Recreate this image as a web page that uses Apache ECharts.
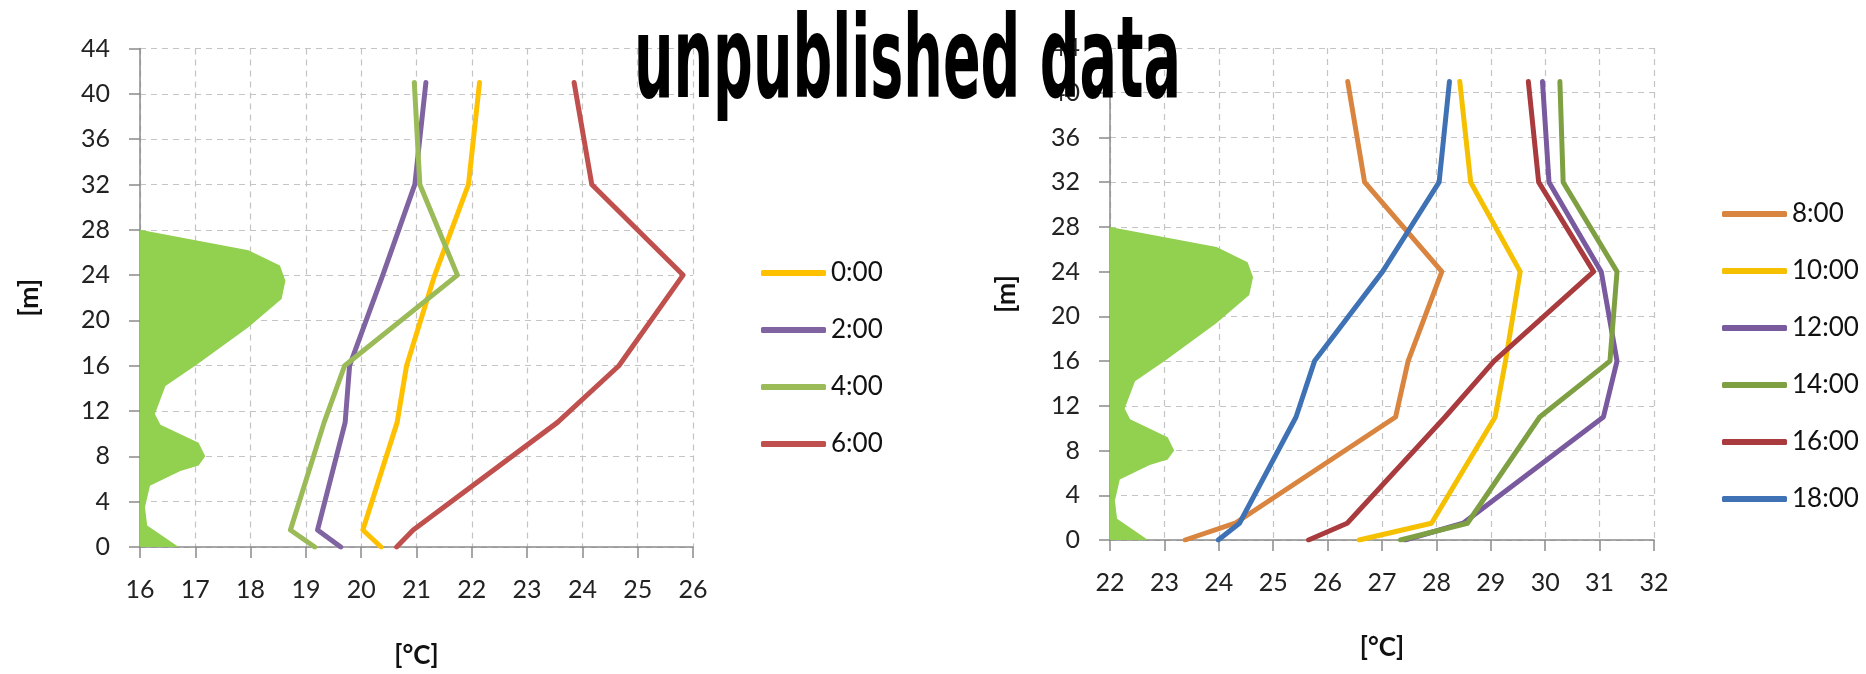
<!DOCTYPE html>
<html>
<head>
<meta charset="utf-8">
<script src="https://cdn.jsdelivr.net/npm/echarts@6/dist/echarts.min.js"></script>
<style>
  html, body { margin: 0; padding: 0; background: #ffffff; }
  #chart { width: 1866px; height: 674px; }
</style>
</head>
<body>
<div id="chart"></div>
<script>
// Measurement heights [m] shared by every temperature profile
const heights = [0, 1.5, 11, 16, 24, 32, 41];

// Night profiles [°C]
const nightNames = ['0:00', '2:00', '4:00', '6:00'];
const t0000 = [20.36, 20.03, 20.65, 20.82, 21.33, 21.94, 22.14];
const t0200 = [19.63, 19.21, 19.71, 19.79, 20.39, 20.97, 21.17];
const t0400 = [19.16, 18.72, 19.33, 19.70, 21.74, 21.06, 20.96];
const t0600 = [20.64, 20.94, 23.55, 24.66, 25.82, 24.17, 23.85];
const nightColors = ['#FFC000', '#8064A2', '#9BBB59', '#C0504D'];

// Day profiles [°C]
const dayNames = ['8:00', '10:00', '12:00', '14:00', '16:00', '18:00'];
const t0800 = [23.38, 24.30, 27.25, 27.48, 28.10, 26.68, 26.37];
const t1000 = [26.58, 27.91, 29.08, 29.27, 29.54, 28.63, 28.43];
const t1200 = [27.42, 28.49, 31.07, 31.32, 31.03, 30.07, 29.95];
const t1400 = [27.34, 28.57, 29.90, 31.19, 31.32, 30.33, 30.27];
const t1600 = [25.65, 26.36, 28.16, 29.06, 30.89, 29.88, 29.69];
const t1800 = [23.99, 24.38, 25.42, 25.76, 27.01, 28.05, 28.24];
const dayColors = ['#D9853F', '#F5C000', '#7A5A9E', '#7EA043', '#A93A3D', '#3F72B5'];

// Canopy silhouette: height [m] and relative width (units of the hidden 0..10 axis)
const canopyH = [0, 1.9, 3.5, 5.4, 6.7, 7.2, 8.0, 9.2, 10.8, 11.75, 14.2, 16.1, 19.4, 21.9, 23.5, 24.85, 26.2, 28];
const canopyW = [0.70, 0.13, 0.09, 0.18, 0.73, 1.06, 1.18, 1.06, 0.37, 0.27, 0.46, 1.03, 1.96, 2.56, 2.63, 2.53, 1.96, 0];

// Axis ticks
const nightTempMin = 16, nightTempMax = 26;
const dayTempMin = 22, dayTempMax = 32;
const heightMin = 0, heightMax = 44, heightStep = 4;

const FONT = 'Lato, "Open Sans", sans-serif';
const GRID_COLOR = '#c4c4c4';
const AXIS_COLOR = '#8a8a8a';

function pairs(temps) {
  return temps.map((t, i) => [t, heights[i]]);
}

function tempAxis(gridIndex, min, max, nameGap) {
  return {
    type: 'value', gridIndex, min, max, interval: 1,
    name: '[°C]', nameLocation: 'middle', nameGap,
    nameTextStyle: { fontFamily: FONT, fontWeight: 'bold', fontSize: 26, color: '#111' },
    axisLine: { show: true, lineStyle: { color: AXIS_COLOR, width: 1.5 } },
    axisTick: { show: true, length: 11, lineStyle: { color: AXIS_COLOR, width: 1.5 } },
    axisLabel: { fontFamily: FONT, fontSize: 25, color: '#222', margin: 30 },
    splitLine: { show: true, lineStyle: { color: GRID_COLOR, type: [6, 5], width: 1.2 } }
  };
}

function heightAxis(gridIndex, nameGap) {
  return {
    type: 'value', gridIndex, min: heightMin, max: heightMax, interval: heightStep,
    name: '[m]', nameLocation: 'middle', nameGap, nameRotate: 90,
    nameTextStyle: { fontFamily: FONT, fontWeight: 'bold', fontSize: 27, color: '#111' },
    axisLine: { show: true, lineStyle: { color: AXIS_COLOR, width: 1.5 } },
    axisTick: { show: true, length: 11, lineStyle: { color: AXIS_COLOR, width: 1.5 } },
    axisLabel: { fontFamily: FONT, fontSize: 25, color: '#222', margin: 30 },
    splitLine: { show: true, lineStyle: { color: GRID_COLOR, type: [6, 5], width: 1.2 } }
  };
}

function canopyAxis(gridIndex) {
  return { type: 'value', gridIndex, min: 0, max: 10, show: false };
}

function canopySeries(xAxisIndex, yAxisIndex) {
  return {
    type: 'custom', name: 'canopy', xAxisIndex, yAxisIndex, z: 1,
    silent: true,
    data: [[0, 0]],
    renderItem: function (params, api) {
      const pts = canopyW.map((w, i) => api.coord([w, canopyH[i]]));
      pts.push(api.coord([0, canopyH[0]]));
      return {
        type: 'polygon',
        shape: { points: pts },
        style: { fill: '#92D050' }
      };
    }
  };
}

function profileSeries(name, temps, color, xAxisIndex, yAxisIndex) {
  return {
    type: 'line', name, xAxisIndex, yAxisIndex, z: 3,
    data: pairs(temps),
    showSymbol: false, symbol: 'none',
    color,
    lineStyle: { color, width: 5, cap: 'round', join: 'round' },
    emphasis: { disabled: true },
    animation: false
  };
}

function legend(names, left, top) {
  return {
    data: names, orient: 'vertical', left, top,
    icon: 'roundRect', itemWidth: 65, itemHeight: 6,
    itemGap: 31, selectedMode: false,
    textStyle: { fontFamily: FONT, fontSize: 26, color: '#111', lineHeight: 26, padding: [0, 0, 0, 0] }
  };
}

const nightTemps = [t0000, t0200, t0400, t0600];
const dayTemps = [t0800, t1000, t1200, t1400, t1600, t1800];

const series = [canopySeries(1, 0), canopySeries(3, 1)];
nightNames.forEach((n, i) => series.push(profileSeries(n, nightTemps[i], nightColors[i], 0, 0)));
dayNames.forEach((n, i) => series.push(profileSeries(n, dayTemps[i], dayColors[i], 2, 1)));

// Heading drawn with a condensed bold face, stretched to its box
const titleText = 'unpublished data';
const titleFont = 'bold 104px "DejaVu Sans Condensed", "DejaVu Sans", sans-serif';
const measureCtx = document.createElement('canvas').getContext('2d');
measureCtx.font = titleFont;
const titleWidth = measureCtx.measureText(titleText).width;
const titleScaleX = 547 / titleWidth;

const chart = echarts.init(document.getElementById('chart'), null, { renderer: 'canvas' });
chart.setOption({
  backgroundColor: '#ffffff',
  animation: false,
  grid: [
    { left: 140, top: 48.5, width: 553, height: 500.5 },
    { left: 1110, top: 48, width: 544, height: 492 }
  ],
  xAxis: [
    tempAxis(0, nightTempMin, nightTempMax, 96),
    canopyAxis(0),
    tempAxis(1, dayTempMin, dayTempMax, 95),
    canopyAxis(1)
  ],
  yAxis: [
    heightAxis(0, 97),
    heightAxis(1, 90)
  ],
  legend: [
    legend(nightNames, 756, 255),
    legend(dayNames, 1717, 196)
  ],
  series,
  graphic: [{
    type: 'text', z: 100,
    x: 634, y: 67,
    scaleX: titleScaleX, scaleY: 1.1,
    style: {
      text: titleText, font: titleFont, fill: '#000',
      x: 0, y: 0, align: 'left', verticalAlign: 'middle'
    }
  }]
});
</script>
</body>
</html>
